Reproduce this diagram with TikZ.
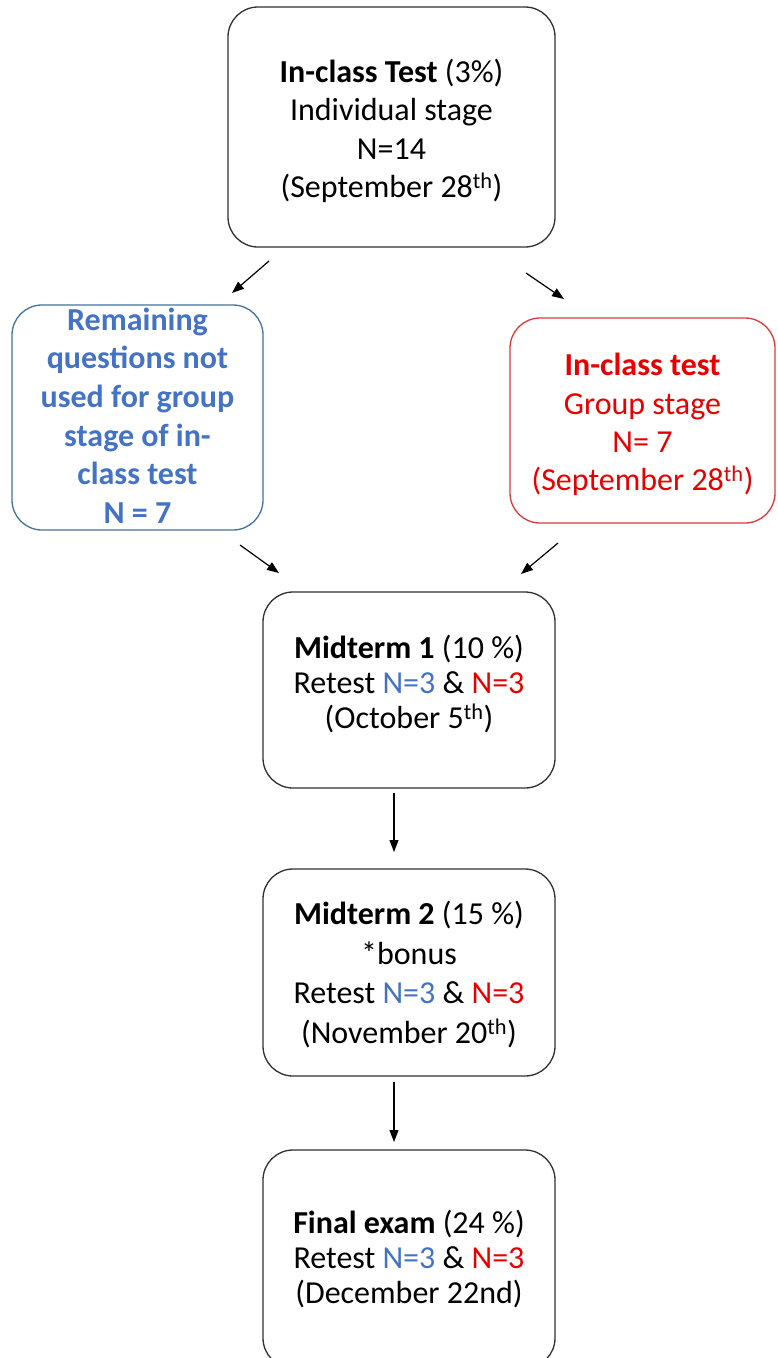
\documentclass[tikz,border=0pt]{standalone}
\usepackage{fontspec}
\setmainfont{Carlito}
\usetikzlibrary{arrows.meta}
\definecolor{bluetxt}{HTML}{4472C4}
\definecolor{blueline}{HTML}{41719C}
\definecolor{redtxt}{HTML}{E60000}
\definecolor{redline}{HTML}{D83A3A}
\definecolor{boxline}{HTML}{303030}
\tikzset{
  box/.style={draw=boxline, line width=1.3pt, rounded corners=30pt, inner sep=0pt},
  txt/.style={align=center, inner sep=0pt},
  conn/.style={line width=1.2pt, -{Triangle[length=12pt,width=9pt]}},
}
\newcommand{\fs}[1]{\fontsize{32}{#1}\selectfont}
\begin{document}
\begin{tikzpicture}[x=1pt,y=-1pt]
\useasboundingbox (0,0) rectangle (778,1358);
\begin{scope}
\clip (0,0) rectangle (778,1358);
\node[box, minimum width=327pt, minimum height=240pt] (top) at (391.5,127) {};
\node[txt, font=\fs{38.5}] (toptext) at ([yshift=-4pt]top.center)
  {\textbf{In-class Test} (3\%)\\Individual stage\\N=14\\(September 28\textsuperscript{th})};
\node[box, draw=blueline, minimum width=251pt, minimum height=225pt] (blue) at (137.5,417.5) {};
\node[txt, font=\fs{38.6}\bfseries, text=bluetxt] (bluetext) at ([yshift=2pt]blue.center)
  {Remaining\\questions not\\used for group\\stage of in-\\class test\\N = 7};
\node[box, draw=redline, minimum width=265pt, minimum height=205pt] (red) at (642.5,420.5) {};
\node[txt, font=\fs{38.3}, text=redtxt] (redtext) at ([yshift=-4pt]red.center)
  {\textbf{In-class test}\\Group stage\\N= 7\\(September 28\textsuperscript{th})};
\node[box, minimum width=292pt, minimum height=196pt] (mid1) at (409,690) {};
\node[txt, font=\fs{35}] (mid1text) at ([yshift=6pt]mid1.center)
  {\textbf{Midterm 1} (10 \%)\\Retest \textcolor{bluetxt}{N=3} \& \textcolor{redtxt}{N=3}\\(October 5\textsuperscript{th})};
\node[box, minimum width=292pt, minimum height=207pt] (mid2) at (409,972.5) {};
\node[txt, font=\fs{39.5}] (mid2text) at ([yshift=-2pt]mid2.center)
  {\textbf{Midterm 2} (15 \%)\\*bonus\\Retest \textcolor{bluetxt}{N=3} \& \textcolor{redtxt}{N=3}\\(November 20\textsuperscript{th})};
\node[box, minimum width=292pt, minimum height=218pt] (final) at (409,1259) {};
\node[txt, font=\fs{35}] (finaltext) at (final.center)
  {\textbf{Final exam} (24 \%)\\Retest \textcolor{bluetxt}{N=3} \& \textcolor{redtxt}{N=3}\\(December 22nd)};
\end{scope}
\coordinate (a1s) at (269,261);
\coordinate (a1e) at (232,293);
\coordinate (a2s) at (526,273);
\coordinate (a2e) at (564,299);
\coordinate (a3s) at (240,545);
\coordinate (a3e) at (279,573);
\coordinate (a4s) at (558,543);
\coordinate (a4e) at (521,574);
\coordinate (a5s) at (394,793);
\coordinate (a5e) at (394,852);
\coordinate (a6s) at (394,1082);
\coordinate (a6e) at (394,1142);
\draw[conn] (a1s) -- (a1e);
\draw[conn] (a2s) -- (a2e);
\draw[conn] (a3s) -- (a3e);
\draw[conn] (a4s) -- (a4e);
\draw[conn] (a5s) -- (a5e);
\draw[conn] (a6s) -- (a6e);
\end{tikzpicture}
\end{document}
